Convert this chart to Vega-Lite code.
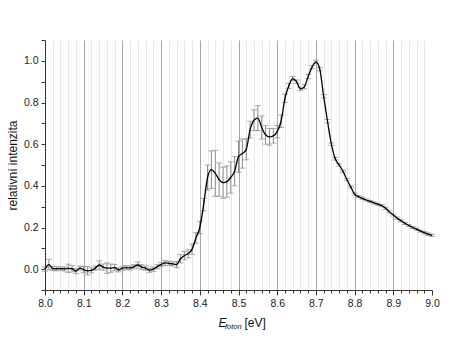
{
  "$schema": "https://vega.github.io/schema/vega-lite/v6.json",
  "width": 387,
  "height": 250,
  "autosize": {"type": "none"},
  "padding": {"left": 45, "top": 40, "right": 21, "bottom": 58},
  "background": "white",
  "config": {
    "view": {"stroke": null},
    "font": "Liberation Sans",
    "axis": {"labelFont": "Liberation Sans", "titleFont": "Liberation Sans", "labelColor": "#222", "titleColor": "#111", "domainColor": "#333", "tickColor": "#333", "titleFontWeight": "normal"}
  },
  "data": {"values": [
    {"x": 8.00, "y": 0.000, "e": 0.010}, {"x": 8.01, "y": 0.022, "e": 0.025}, {"x": 8.02, "y": 0.003, "e": 0.010},
    {"x": 8.03, "y": 0.002, "e": 0.010}, {"x": 8.04, "y": 0.003, "e": 0.008}, {"x": 8.05, "y": 0.001, "e": 0.010},
    {"x": 8.06, "y": 0.004, "e": 0.020}, {"x": 8.07, "y": 0.002, "e": 0.015}, {"x": 8.08, "y": -0.010, "e": 0.012},
    {"x": 8.09, "y": 0.005, "e": 0.010}, {"x": 8.10, "y": -0.002, "e": 0.015}, {"x": 8.11, "y": -0.008, "e": 0.020},
    {"x": 8.12, "y": -0.006, "e": 0.012}, {"x": 8.13, "y": 0.005, "e": 0.010}, {"x": 8.14, "y": 0.020, "e": 0.020},
    {"x": 8.15, "y": 0.010, "e": 0.015}, {"x": 8.16, "y": 0.005, "e": 0.025}, {"x": 8.17, "y": 0.005, "e": 0.020},
    {"x": 8.18, "y": 0.007, "e": 0.015}, {"x": 8.19, "y": -0.003, "e": 0.010}, {"x": 8.20, "y": 0.005, "e": 0.010},
    {"x": 8.21, "y": 0.007, "e": 0.010}, {"x": 8.22, "y": 0.006, "e": 0.010}, {"x": 8.23, "y": 0.012, "e": 0.010},
    {"x": 8.24, "y": 0.020, "e": 0.015}, {"x": 8.25, "y": 0.010, "e": 0.012}, {"x": 8.26, "y": 0.005, "e": 0.010},
    {"x": 8.27, "y": -0.005, "e": 0.010}, {"x": 8.28, "y": 0.000, "e": 0.010}, {"x": 8.29, "y": 0.012, "e": 0.010},
    {"x": 8.30, "y": 0.022, "e": 0.010}, {"x": 8.31, "y": 0.030, "e": 0.012}, {"x": 8.32, "y": 0.028, "e": 0.010},
    {"x": 8.33, "y": 0.025, "e": 0.010}, {"x": 8.34, "y": 0.022, "e": 0.015}, {"x": 8.35, "y": 0.050, "e": 0.020},
    {"x": 8.36, "y": 0.065, "e": 0.020}, {"x": 8.37, "y": 0.075, "e": 0.020}, {"x": 8.38, "y": 0.095, "e": 0.025},
    {"x": 8.39, "y": 0.150, "e": 0.025}, {"x": 8.40, "y": 0.200, "e": 0.030}, {"x": 8.41, "y": 0.310, "e": 0.030},
    {"x": 8.42, "y": 0.440, "e": 0.060}, {"x": 8.43, "y": 0.478, "e": 0.090}, {"x": 8.44, "y": 0.460, "e": 0.110},
    {"x": 8.45, "y": 0.430, "e": 0.080}, {"x": 8.46, "y": 0.415, "e": 0.075}, {"x": 8.47, "y": 0.420, "e": 0.075},
    {"x": 8.48, "y": 0.440, "e": 0.075}, {"x": 8.49, "y": 0.470, "e": 0.070}, {"x": 8.50, "y": 0.540, "e": 0.075},
    {"x": 8.51, "y": 0.555, "e": 0.070}, {"x": 8.52, "y": 0.575, "e": 0.050}, {"x": 8.53, "y": 0.670, "e": 0.040},
    {"x": 8.54, "y": 0.715, "e": 0.050}, {"x": 8.55, "y": 0.725, "e": 0.060}, {"x": 8.56, "y": 0.680, "e": 0.055},
    {"x": 8.57, "y": 0.645, "e": 0.045}, {"x": 8.58, "y": 0.635, "e": 0.040}, {"x": 8.59, "y": 0.640, "e": 0.035},
    {"x": 8.60, "y": 0.660, "e": 0.030}, {"x": 8.61, "y": 0.710, "e": 0.030}, {"x": 8.62, "y": 0.820, "e": 0.020},
    {"x": 8.63, "y": 0.880, "e": 0.012}, {"x": 8.64, "y": 0.915, "e": 0.010}, {"x": 8.65, "y": 0.900, "e": 0.008},
    {"x": 8.66, "y": 0.865, "e": 0.008}, {"x": 8.67, "y": 0.875, "e": 0.010}, {"x": 8.68, "y": 0.925, "e": 0.010},
    {"x": 8.69, "y": 0.970, "e": 0.008}, {"x": 8.70, "y": 0.995, "e": 0.008}, {"x": 8.71, "y": 0.960, "e": 0.008},
    {"x": 8.72, "y": 0.830, "e": 0.008}, {"x": 8.73, "y": 0.710, "e": 0.008}, {"x": 8.74, "y": 0.600, "e": 0.006},
    {"x": 8.75, "y": 0.530, "e": 0.006}, {"x": 8.76, "y": 0.500, "e": 0.006}, {"x": 8.77, "y": 0.470, "e": 0.005},
    {"x": 8.78, "y": 0.430, "e": 0.005}, {"x": 8.79, "y": 0.395, "e": 0.005}, {"x": 8.80, "y": 0.360, "e": 0.005},
    {"x": 8.81, "y": 0.348, "e": 0.005}, {"x": 8.82, "y": 0.340, "e": 0.005}, {"x": 8.83, "y": 0.332, "e": 0.005},
    {"x": 8.84, "y": 0.325, "e": 0.005}, {"x": 8.85, "y": 0.318, "e": 0.005}, {"x": 8.86, "y": 0.312, "e": 0.005},
    {"x": 8.87, "y": 0.305, "e": 0.005}, {"x": 8.88, "y": 0.292, "e": 0.005}, {"x": 8.89, "y": 0.275, "e": 0.005},
    {"x": 8.90, "y": 0.260, "e": 0.005}, {"x": 8.91, "y": 0.245, "e": 0.005}, {"x": 8.92, "y": 0.232, "e": 0.005},
    {"x": 8.93, "y": 0.220, "e": 0.005}, {"x": 8.94, "y": 0.210, "e": 0.005}, {"x": 8.95, "y": 0.200, "e": 0.005},
    {"x": 8.96, "y": 0.192, "e": 0.005}, {"x": 8.97, "y": 0.183, "e": 0.005}, {"x": 8.98, "y": 0.175, "e": 0.006},
    {"x": 8.99, "y": 0.168, "e": 0.006}, {"x": 9.00, "y": 0.162, "e": 0.006}
  ]},
  "resolve": {"axis": {"x": "independent", "y": "independent"}},
  "layer": [
    {
      "mark": {"type": "errorbar", "color": "#8a8a8a", "ticks": {"size": 6}},
      "encoding": {
        "x": {"field": "x", "type": "quantitative", "scale": {"domain": [8.0, 9.0], "nice": false, "zero": false},
          "axis": {"orient": "bottom", "values": [8.02,8.04,8.06,8.08,8.12,8.14,8.16,8.18,8.22,8.24,8.26,8.28,8.32,8.34,8.36,8.38,8.42,8.44,8.46,8.48,8.52,8.54,8.56,8.58,8.62,8.64,8.66,8.68,8.72,8.74,8.76,8.78,8.82,8.84,8.86,8.88,8.92,8.94,8.96,8.98],
            "grid": true, "gridColor": "#e8e8e8", "gridWidth": 1, "labels": false, "domain": false, "tickSize": 3,
            "title": "foton", "titleFontSize": 7.5, "titleFontStyle": "italic", "titleAlign": "left", "titleBaseline": "alphabetic", "titleX": 179.5, "titleY": 38}},
        "y": {"field": "y", "type": "quantitative", "scale": {"domain": [-0.1, 1.1], "nice": false, "zero": false},
          "axis": {"orient": "left", "title": null, "grid": false, "labels": false, "domain": false,
            "values": [-0.1,0.1,0.3,0.5,0.7,0.9,1.1], "tickSize": 4}},
        "yError": {"field": "e"}
      }
    },
    {
      "mark": {"type": "line", "color": "#000000", "strokeWidth": 1.3, "interpolate": "monotone"},
      "encoding": {
        "x": {"field": "x", "type": "quantitative", "scale": {"domain": [8.0, 9.0], "nice": false, "zero": false},
          "axis": {"orient": "bottom", "values": [8.0,8.1,8.2,8.3,8.4,8.5,8.6,8.7,8.8,8.9,9.0], "format": ".1f",
            "grid": true, "gridColor": "#a6a6a6", "gridWidth": 1,
            "gridOpacity": {"condition": {"test": "datum.value > 8.99 || datum.value < 8.01", "value": 0}, "value": 1},
            "tickSize": 5, "labelPadding": 3, "labelFontSize": 10.5, "labelFlush": false,
            "title": "E", "titleFontSize": 12, "titleFontStyle": "italic", "titleAlign": "left", "titleBaseline": "alphabetic", "titleX": 173, "titleY": 36}},
        "y": {"field": "y", "type": "quantitative", "scale": {"domain": [-0.1, 1.1], "nice": false, "zero": false},
          "axis": {"orient": "left", "title": "relativní intenzita", "titleFontSize": 12, "titlePadding": 4, "grid": false,
            "values": [0,0.2,0.4,0.6,0.8,1.0], "format": ".1f", "tickSize": 4, "labelPadding": 3, "labelFontSize": 10.5}}
      }
    },
    {
      "mark": {"type": "point", "opacity": 0},
      "encoding": {
        "x": {"field": "x", "type": "quantitative", "scale": {"domain": [8.0, 9.0], "nice": false, "zero": false},
          "axis": {"orient": "bottom", "grid": false, "labels": false, "ticks": false, "domain": false,
            "title": "[eV]", "titleFontSize": 12, "titleAlign": "left", "titleBaseline": "alphabetic", "titleX": 199, "titleY": 36}},
        "y": {"field": "y", "type": "quantitative", "scale": {"domain": [-0.1, 1.1], "nice": false, "zero": false}, "axis": null}
      }
    }
  ]
}
